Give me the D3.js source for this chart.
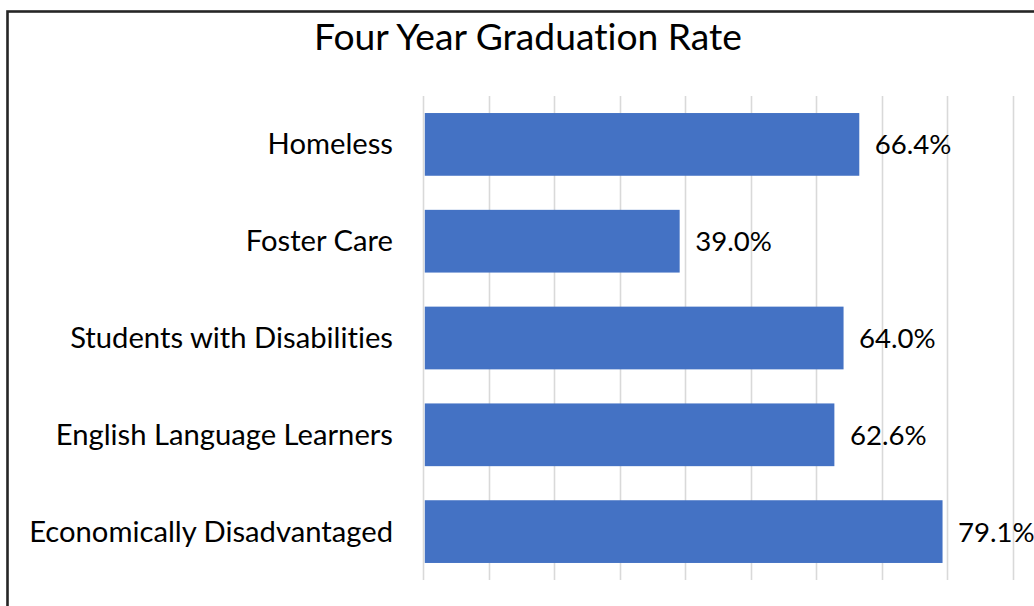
<!DOCTYPE html>
<html>
<head>
<meta charset="utf-8">
<script src="https://cdn.jsdelivr.net/npm/d3@7"></script>
<style>
  html, body { margin: 0; padding: 0; background: #fff; }
  svg { display: block; }
  text { font-variant-ligatures: none; font-feature-settings: "liga" 0, "clig" 0; }
</style>
</head>
<body>
<svg id="chart" width="1034" height="606"></svg>
<script>
// Four-year graduation rate by student group (percent)
const categories = [
  "Homeless",
  "Foster Care",
  "Students with Disabilities",
  "English Language Learners",
  "Economically Disadvantaged"
];
const rates = [66.4, 39.0, 64.0, 62.6, 79.1];
const gridTicks = [0, 10, 20, 30, 40, 50, 60, 70, 80, 90];
const titleText = "Four Year Graduation Rate";

const W = 1034, H = 606;
const FONT = "Lato, 'Open Sans', sans-serif";
const svg = d3.select("#chart");

// chart frame (runs past the right and bottom edges)
svg.append("rect")
  .attr("x", 7.5).attr("y", 11.5)
  .attr("width", W + 40).attr("height", H + 40)
  .attr("fill", "#fff")
  .attr("stroke", "#262626")
  .attr("stroke-width", 2.6);

const plot = { left: 424, right: 1014, top: 96, bottom: 580 };

const x = d3.scaleLinear()
  .domain([0, 90])
  .range([plot.left, plot.right]);

const y = d3.scaleBand()
  .domain(categories)
  .range([plot.top, plot.bottom])
  .paddingInner(0.352)
  .paddingOuter(0.176);

// vertical gridlines
svg.append("g")
  .selectAll("line")
  .data(gridTicks)
  .join("line")
  .attr("x1", d => Math.round(x(d)) - 0.5)
  .attr("x2", d => Math.round(x(d)) - 0.5)
  .attr("y1", plot.top)
  .attr("y2", plot.bottom)
  .attr("stroke", "#d9d9d9")
  .attr("stroke-width", 1.6);

// bars
const rows = categories.map((c, i) => ({ cat: c, v: rates[i] }));
svg.append("g")
  .selectAll("rect")
  .data(rows)
  .join("rect")
  .attr("x", x(0) + 0.8)
  .attr("y", d => y(d.cat))
  .attr("width", d => x(d.v) - x(0) - 0.8)
  .attr("height", y.bandwidth())
  .attr("fill", "#4472c4");

// title, sized to its measured span
const title = svg.append("text")
  .attr("x", 528)
  .attr("y", 49.5)
  .attr("text-anchor", "middle")
  .attr("font-family", FONT)
  .attr("font-size", 38)
  .attr("fill", "#000")
  .text(titleText);
{
  const w = title.node().getComputedTextLength();
  title.attr("font-size", 38 * 428 / w);
}

// category labels
const catLabels = svg.append("g")
  .selectAll("text")
  .data(rows)
  .join("text")
  .attr("x", 393)
  .attr("text-anchor", "end")
  .attr("font-family", FONT)
  .attr("font-size", 29)
  .attr("fill", "#000")
  .text(d => d.cat);

// fit label size so the longest label spans its measured width
let labelSize = 29;
{
  const widest = d3.max(catLabels.nodes(), n => n.getComputedTextLength());
  labelSize = 29 * 364 / widest;
  catLabels.attr("font-size", labelSize);
}
catLabels.attr("y", d => y(d.cat) + y.bandwidth() / 2 + labelSize * 0.34);

// value labels
svg.append("g")
  .selectAll("text")
  .data(rows)
  .join("text")
  .attr("x", d => x(d.v) + 15.5)
  .attr("y", d => y(d.cat) + y.bandwidth() / 2 + labelSize * 0.34)
  .attr("font-family", FONT)
  .attr("font-size", labelSize * 0.945)
  .attr("fill", "#000")
  .text(d => d3.format(".1f")(d.v) + "%");
</script>
</body>
</html>
